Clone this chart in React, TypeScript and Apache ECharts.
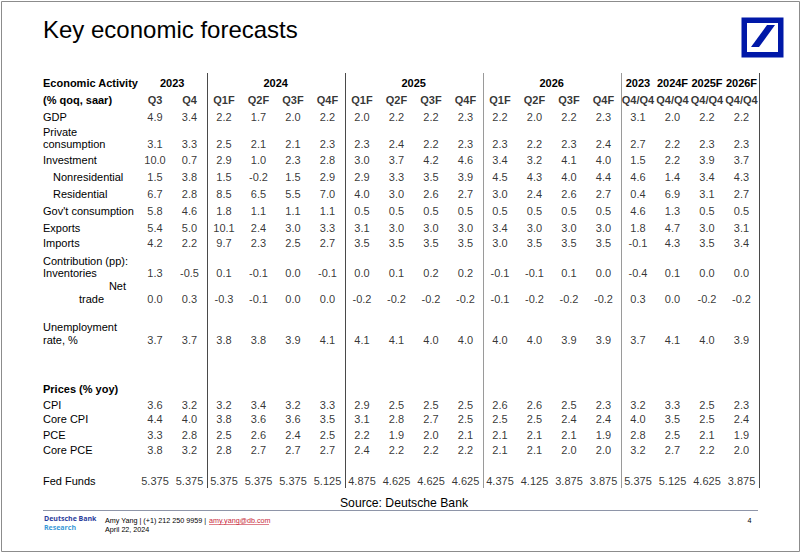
import React, { useEffect, useRef } from 'react';
import * as echarts from 'echarts';

// ---------- data ----------
const columnKeys = [
  '2023 Q3', '2023 Q4',
  '2024 Q1F', '2024 Q2F', '2024 Q3F', '2024 Q4F',
  '2025 Q1F', '2025 Q2F', '2025 Q3F', '2025 Q4F',
  '2026 Q1F', '2026 Q2F', '2026 Q3F', '2026 Q4F',
  '2023 Q4/Q4', '2024F Q4/Q4', '2025F Q4/Q4', '2026F Q4/Q4',
];
const columnLabels = [
  'Q3', 'Q4', 'Q1F', 'Q2F', 'Q3F', 'Q4F', 'Q1F', 'Q2F', 'Q3F', 'Q4F',
  'Q1F', 'Q2F', 'Q3F', 'Q4F', 'Q4/Q4', 'Q4/Q4', 'Q4/Q4', 'Q4/Q4',
];
const yearHeaders = ['2023', '2024', '2025', '2026', '2023', '2024F', '2025F', '2026F'];
const yearHeaderSpans: [number, number][] = [[0, 1], [2, 5], [6, 9], [10, 13], [14, 14], [15, 15], [16, 16], [17, 17]];
const groupStarts = [2, 6, 10, 14];

const gdp = [4.9, 3.4, 2.2, 1.7, 2.0, 2.2, 2.0, 2.2, 2.2, 2.3, 2.2, 2.0, 2.2, 2.3, 3.1, 2.0, 2.2, 2.2];
const privateConsumption = [3.1, 3.3, 2.5, 2.1, 2.1, 2.3, 2.3, 2.4, 2.2, 2.3, 2.3, 2.2, 2.3, 2.4, 2.7, 2.2, 2.3, 2.3];
const investment = [10.0, 0.7, 2.9, 1.0, 2.3, 2.8, 3.0, 3.7, 4.2, 4.6, 3.4, 3.2, 4.1, 4.0, 1.5, 2.2, 3.9, 3.7];
const nonresidential = [1.5, 3.8, 1.5, -0.2, 1.5, 2.9, 2.9, 3.3, 3.5, 3.9, 4.5, 4.3, 4.0, 4.4, 4.6, 1.4, 3.4, 4.3];
const residential = [6.7, 2.8, 8.5, 6.5, 5.5, 7.0, 4.0, 3.0, 2.6, 2.7, 3.0, 2.4, 2.6, 2.7, 0.4, 6.9, 3.1, 2.7];
const govConsumption = [5.8, 4.6, 1.8, 1.1, 1.1, 1.1, 0.5, 0.5, 0.5, 0.5, 0.5, 0.5, 0.5, 0.5, 4.6, 1.3, 0.5, 0.5];
const exportsArr = [5.4, 5.0, 10.1, 2.4, 3.0, 3.3, 3.1, 3.0, 3.0, 3.0, 3.4, 3.0, 3.0, 3.0, 1.8, 4.7, 3.0, 3.1];
const importsArr = [4.2, 2.2, 9.7, 2.3, 2.5, 2.7, 3.5, 3.5, 3.5, 3.5, 3.0, 3.5, 3.5, 3.5, -0.1, 4.3, 3.5, 3.4];
const inventories = [1.3, -0.5, 0.1, -0.1, 0.0, -0.1, 0.0, 0.1, 0.2, 0.2, -0.1, -0.1, 0.1, 0.0, -0.4, 0.1, 0.0, 0.0];
const netTrade = [0.0, 0.3, -0.3, -0.1, 0.0, 0.0, -0.2, -0.2, -0.2, -0.2, -0.1, -0.2, -0.2, -0.2, 0.3, 0.0, -0.2, -0.2];
const unemployment = [3.7, 3.7, 3.8, 3.8, 3.9, 4.1, 4.1, 4.1, 4.0, 4.0, 4.0, 4.0, 3.9, 3.9, 3.7, 4.1, 4.0, 3.9];
const cpi = [3.6, 3.2, 3.2, 3.4, 3.2, 3.3, 2.9, 2.5, 2.5, 2.5, 2.6, 2.6, 2.5, 2.3, 3.2, 3.3, 2.5, 2.3];
const coreCpi = [4.4, 4.0, 3.8, 3.6, 3.6, 3.5, 3.1, 2.8, 2.7, 2.5, 2.5, 2.5, 2.4, 2.4, 4.0, 3.5, 2.5, 2.4];
const pce = [3.3, 2.8, 2.5, 2.6, 2.4, 2.5, 2.2, 1.9, 2.0, 2.1, 2.1, 2.1, 2.1, 1.9, 2.8, 2.5, 2.1, 1.9];
const corePce = [3.8, 3.2, 2.8, 2.7, 2.7, 2.7, 2.4, 2.2, 2.2, 2.2, 2.1, 2.1, 2.0, 2.0, 3.2, 2.7, 2.2, 2.0];
const fedFunds = [5.375, 5.375, 5.375, 5.375, 5.375, 5.125, 4.875, 4.625, 4.625, 4.625, 4.375, 4.125, 3.875, 3.875, 5.375, 5.125, 4.625, 3.875];

const rowNames = [
  'GDP', 'Private consumption', 'Investment', 'Nonresidential', 'Residential', "Gov't consumption",
  'Exports', 'Imports', 'Inventories', 'Net trade', 'Unemployment rate, %',
  'CPI', 'Core CPI', 'PCE', 'Core PCE', 'Fed Funds',
];
const rowValues = [
  gdp, privateConsumption, investment, nonresidential, residential, govConsumption,
  exportsArr, importsArr, inventories, netTrade, unemployment,
  cpi, coreCpi, pce, corePce, fedFunds,
];
const rowDecimals = [1, 1, 1, 1, 1, 1, 1, 1, 1, 1, 1, 1, 1, 1, 1, 3];

// ---------- layout ----------
const FONT = '"Liberation Sans", Arial, Helvetica, sans-serif';
const rowY = [117, 144, 160, 177, 194, 211, 228, 243, 273, 299, 340, 405, 419, 435, 450, 481];
type LabelLine = { text: string; x: number; dy: number; align?: string };
const rowLabelLines: LabelLine[][] = [
  [{ text: 'GDP', x: 43, dy: 0 }],
  [{ text: 'Private', x: 43, dy: -12.5 }, { text: 'consumption', x: 43, dy: 0 }],
  [{ text: 'Investment', x: 43, dy: 0 }],
  [{ text: 'Nonresidential', x: 53, dy: 0 }],
  [{ text: 'Residential', x: 53, dy: 0 }],
  [{ text: "Gov't consumption", x: 43, dy: 0 }],
  [{ text: 'Exports', x: 43, dy: 0 }],
  [{ text: 'Imports', x: 43, dy: 0 }],
  [{ text: 'Contribution (pp):', x: 43, dy: -12.5 }, { text: 'Inventories', x: 43, dy: 0 }],
  [{ text: 'Net', x: 126, dy: -13, align: 'right' }, { text: 'trade', x: 79, dy: 0 }],
  [{ text: 'Unemployment', x: 43, dy: -13 }, { text: 'rate, %', x: 43, dy: 0 }],
  [{ text: 'CPI', x: 43, dy: 0 }],
  [{ text: 'Core CPI', x: 43, dy: 0 }],
  [{ text: 'PCE', x: 43, dy: 0 }],
  [{ text: 'Core PCE', x: 43, dy: 0 }],
  [{ text: 'Fed Funds', x: 43, dy: 0 }],
];
const HEADER1_Y = 83;
const HEADER2_Y = 100;
const PRICES_Y = 389;

function txt(text: string, x: number, y: number, opts: any = {}) {
  const align = opts.align || 'left';
  return {
    type: 'text',
    silent: true,
    style: {
      text,
      x,
      y,
      fill: opts.fill || '#000',
      fontSize: opts.fontSize || 11,
      fontFamily: opts.fontFamily || FONT,
      fontWeight: opts.fontWeight || 'normal',
      align,
      verticalAlign: 'middle',
      textAlign: align,
      textVerticalAlign: 'middle',
    },
  };
}

export default function App() {
  const ref = useRef<HTMLDivElement>(null);
  useEffect(() => {
    if (!ref.current) return;
    const chart = echarts.init(ref.current, null, { renderer: 'svg' });

    const valueSeries = rowValues.map((vals, r) => ({
      type: 'scatter',
      name: rowNames[r],
      silent: true,
      symbolSize: 1,
      itemStyle: { color: 'rgba(0,0,0,0)' },
      emphasis: { disabled: true },
      data: vals.map((v, c) => [c, rowY[r], v]),
      label: {
        show: true,
        position: 'inside',
        color: '#000',
        fontSize: 11,
        fontFamily: FONT,
        formatter: (p: any) => Number(p.value[2]).toFixed(rowDecimals[r]),
      },
    }));

    const headerSeries = {
      type: 'scatter',
      name: 'quarters',
      silent: true,
      symbolSize: 1,
      itemStyle: { color: 'rgba(0,0,0,0)' },
      emphasis: { disabled: true },
      data: columnLabels.map((_, c) => [c, HEADER2_Y]),
      label: {
        show: true,
        position: 'inside',
        color: '#000',
        fontSize: 11,
        fontWeight: 'bold',
        fontFamily: FONT,
        formatter: (p: any) => columnLabels[p.dataIndex],
      },
    };

    chart.setOption({
      animation: false,
      backgroundColor: '#ffffff',
      grid: { left: 137.75, width: 621, top: 73, height: 415 },
      xAxis: {
        type: 'category',
        data: columnKeys,
        boundaryGap: true,
        axisLine: { show: false },
        axisTick: { show: false },
        axisLabel: { show: false },
        splitLine: {
          show: true,
          interval: (i: number) => groupStarts.indexOf(i) >= 0,
          lineStyle: { color: ['#4a4a4a', '#4a4a4a', '#9a9a9a', '#9a9a9a'], width: 1 },
        },
      },
      yAxis: {
        type: 'value',
        min: 73,
        max: 488,
        inverse: true,
        show: false,
      },
      series: [headerSeries, ...valueSeries],
    });

    const px = (c: number) => chart.convertToPixel({ xAxisIndex: 0 }, c) as number;
    const py = (v: number) => chart.convertToPixel({ yAxisIndex: 0 }, v) as number;

    const els: any[] = [];
    // frame
    els.push({
      type: 'rect', silent: true,
      shape: { x: 1.5, y: 1.5, width: 798, height: 550 },
      style: { fill: 'none', stroke: '#8c8c8c', lineWidth: 1 },
    });
    // title
    els.push(txt('Key economic forecasts', 43, 29.5, { fontSize: 24 }));
    // logo
    els.push({ type: 'rect', silent: true, shape: { x: 741.5, y: 17.5, width: 42, height: 40 }, style: { fill: '#0018a8' } });
    els.push({ type: 'rect', silent: true, shape: { x: 747, y: 23, width: 31, height: 29 }, style: { fill: '#ffffff' } });
    els.push({
      type: 'polygon', silent: true,
      shape: { points: [[751, 47], [759, 47], [775, 25], [767, 25]] },
      style: { fill: '#0018a8' },
    });
    // header texts
    els.push(txt('Economic Activity', 43, py(HEADER1_Y), { fontWeight: 'bold' }));
    els.push(txt('(% qoq, saar)', 43, py(HEADER2_Y), { fontWeight: 'bold' }));
    els.push(txt('Prices (% yoy)', 43, py(PRICES_Y), { fontWeight: 'bold' }));
    yearHeaders.forEach((h, i) => {
      const [a, b] = yearHeaderSpans[i];
      els.push(txt(h, (px(a) + px(b)) / 2, py(HEADER1_Y), { fontWeight: 'bold', align: 'center' }));
    });
    // row labels
    rowLabelLines.forEach((lines, r) => {
      lines.forEach((ln) => {
        els.push(txt(ln.text, ln.x, py(rowY[r]) + ln.dy, { align: ln.align || 'left' }));
      });
    });
    // source
    els.push(txt('Source: Deutsche Bank', 404, 503, { fontSize: 12.2, align: 'center' }));
    // footer
    els.push({
      type: 'line', silent: true,
      shape: { x1: 43, y1: 510.5, x2: 758, y2: 510.5 },
      style: { stroke: '#8e95a8', lineWidth: 1 },
    });
    const dbFont = '"Open Sans", "Liberation Sans", sans-serif';
    els.push(txt('Deutsche Bank', 44, 518.5, { fontSize: 7, fontWeight: 'bold', fill: '#2b3d9c', fontFamily: dbFont }));
    els.push(txt('Research', 44, 527.5, { fontSize: 7, fontWeight: 'bold', fill: '#3a9ad8', fontFamily: dbFont }));
    els.push(txt('Amy Yang | (+1) 212 250 9959 | ', 105, 520.5, { fontSize: 7.2 }));
    els.push(txt('amy.yang@db.com', 209, 520.5, { fontSize: 7.2, fill: '#c8283a' }));
    els.push({
      type: 'line', silent: true,
      shape: { x1: 209, y1: 524.5, x2: 269, y2: 524.5 },
      style: { stroke: '#c8283a', lineWidth: 0.6 },
    });
    els.push(txt('April 22, 2024', 105, 529.5, { fontSize: 7.2 }));
    els.push(txt('4', 747.5, 520.5, { fontSize: 7.2 }));

    chart.setOption({ graphic: { elements: els } });

    return () => chart.dispose();
  }, []);

  return (
    <div
      ref={ref}
      style={{ position: 'fixed', left: 0, top: 0, width: 802, height: 555, background: '#fff' }}
    />
  );
}
